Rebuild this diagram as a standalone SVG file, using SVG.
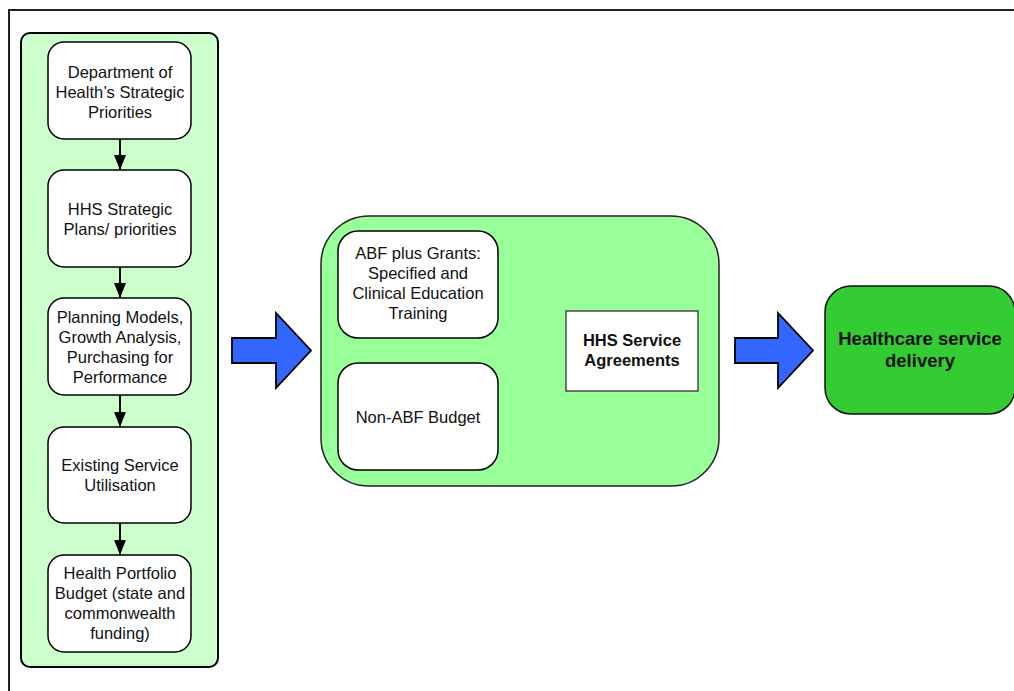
<svg xmlns="http://www.w3.org/2000/svg" width="1014" height="691" viewBox="0 0 1014 691">
<style>
text{font-family:"Liberation Sans",Arial,sans-serif;font-size:16.5px;fill:#111;text-anchor:middle}
.b{font-weight:bold}
.big{font-size:18.5px}
.step{fill:#fff;stroke:#000;stroke-width:1.5}
.blue{fill:#3366ff;stroke:#000;stroke-width:1.8;stroke-linejoin:miter}
.conn{stroke:#000;stroke-width:2;fill:none}
</style>
<defs>
<marker id="ah" viewBox="0 0 12 15" refX="12" refY="6" markerWidth="12" markerHeight="15" markerUnits="userSpaceOnUse" orient="auto">
<path d="M0,0 L15,6 L0,12 Z" fill="#000"/>
</marker>
<marker id="ahd" viewBox="0 0 15 12" refX="15" refY="6" markerWidth="15" markerHeight="12" markerUnits="userSpaceOnUse" orient="auto">
<path d="M0,0 L15,6 L0,12 Z" fill="#000"/>
</marker>
</defs>
<rect width="1014" height="691" fill="#fff"/>
<path d="M9,700 V10 H1020" fill="none" stroke="#222" stroke-width="2"/>

<g id="left-panel">
<rect x="21" y="33" width="197" height="634" rx="9" fill="#ccffcc" stroke="#000" stroke-width="2"/>
</g>

<g id="node-doh">
<rect class="step" x="48" y="42" width="143" height="97" rx="16"/>
<text x="120" y="77.5">Department of</text>
<text x="120" y="97.5">Health’s Strategic</text>
<text x="120" y="117.5">Priorities</text>
</g>
<g id="node-hhs-plans">
<rect class="step" x="48" y="170" width="143" height="97" rx="16"/>
<text x="120" y="215">HHS Strategic</text>
<text x="120" y="235">Plans/ priorities</text>
</g>
<g id="node-planning">
<rect class="step" x="48" y="298" width="143" height="97" rx="16"/>
<text x="120" y="323">Planning Models,</text>
<text x="120" y="343">Growth Analysis,</text>
<text x="120" y="363">Purchasing for</text>
<text x="120" y="383">Performance</text>
</g>
<g id="node-existing">
<rect class="step" x="48" y="427" width="143" height="96" rx="16"/>
<text x="120" y="471">Existing Service</text>
<text x="120" y="491">Utilisation</text>
</g>
<g id="node-budget">
<rect class="step" x="48" y="555" width="143" height="97" rx="16"/>
<text x="120" y="579">Health Portfolio</text>
<text x="120" y="599">Budget (state and</text>
<text x="120" y="619">commonwealth</text>
<text x="120" y="639">funding)</text>
</g>

<g id="middle-panel">
<rect x="321" y="216" width="398" height="270" rx="48" fill="#99ff99" stroke="#222" stroke-width="1.5"/>
</g>
<g id="node-abf">
<rect class="step" x="338" y="231" width="160" height="107" rx="20"/>
<text x="418" y="259">ABF plus Grants:</text>
<text x="418" y="279">Specified and</text>
<text x="418" y="299">Clinical Education</text>
<text x="418" y="319">Training</text>
</g>
<g id="node-nonabf">
<rect class="step" x="338" y="363" width="160" height="107" rx="20"/>
<text x="418" y="423">Non-ABF Budget</text>
</g>
<g id="node-agreements">
<rect x="566" y="311" width="132" height="80" fill="#fff" stroke="#222" stroke-width="1.2"/>
<text class="b" x="632" y="346">HHS Service</text>
<text class="b" x="632" y="366">Agreements</text>
</g>
<g id="node-delivery">
<rect x="825" y="286" width="190" height="128" rx="26" fill="#33cc33" stroke="#111" stroke-width="1.5"/>
<text class="b big" x="920" y="345">Healthcare service</text>
<text class="b big" x="920" y="367">delivery</text>
</g>

<g id="connectors">
<line class="conn" x1="120" y1="139" x2="120" y2="170" marker-end="url(#ahd)"/>
<line class="conn" x1="120" y1="267" x2="120" y2="298" marker-end="url(#ahd)"/>
<line class="conn" x1="120" y1="395" x2="120" y2="427" marker-end="url(#ahd)"/>
<line class="conn" x1="120" y1="523" x2="120" y2="555" marker-end="url(#ahd)"/>
<path class="blue" d="M232,338 H276 V313 L311,350.5 L276,388 V363 H232 Z"/>
<path class="blue" d="M735,338 H778 V313 L813,350.5 L778,388 V363 H735 Z"/>
</g>
</svg>
